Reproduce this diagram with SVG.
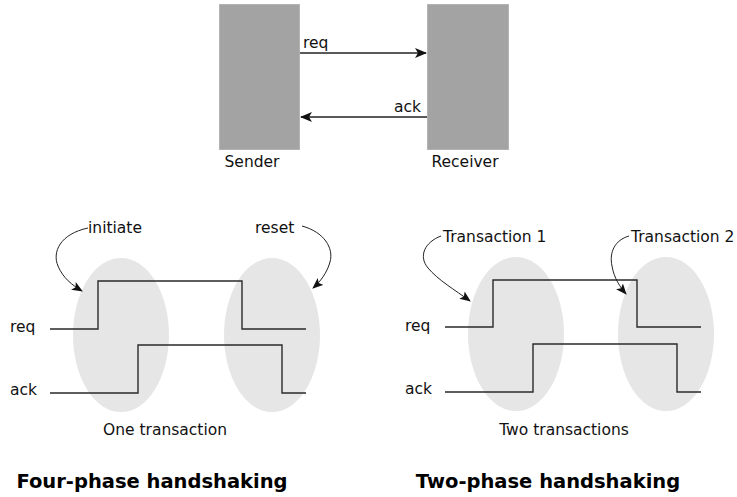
<svg xmlns="http://www.w3.org/2000/svg" width="737" height="497" viewBox="0 0 737 497">
  <style>
    .t { font-family: "DejaVu Sans", Verdana, sans-serif; font-size: 15.5px; fill: #111; }
    .b { font-family: "DejaVu Sans", Verdana, sans-serif; font-size: 19.5px; font-weight: bold; fill: #000; }
    .box { fill: #a3a3a3; stroke: #b4b4b4; stroke-width: 1; }
    .oval { fill: #e6e6e6; }
    .wave { fill: none; stroke: #2a2a2a; stroke-width: 1.4; }
    .wire { fill: none; stroke: #222; stroke-width: 1.3; }
    .curve { fill: none; stroke: #222; stroke-width: 1; }
  </style>
  <defs>
    <marker id="arrow" viewBox="0 0 12 10" refX="11" refY="5" markerWidth="12" markerHeight="10" markerUnits="userSpaceOnUse" orient="auto">
      <path d="M0,0 L12,5 L0,10 L3,5 Z" fill="#111"/>
    </marker>
    <marker id="arrowS" viewBox="0 0 11 9" refX="10" refY="4.5" markerWidth="11" markerHeight="9" markerUnits="userSpaceOnUse" orient="auto">
      <path d="M0,0 L11,4.5 L0,9 L2.5,4.5 Z" fill="#111"/>
    </marker>
  </defs>

  <!-- sender / receiver blocks -->
  <g id="sender">
    <rect class="box" x="219.5" y="4.5" width="80" height="145"/>
    <text class="t" x="252" y="167" text-anchor="middle">Sender</text>
  </g>
  <g id="receiver">
    <rect class="box" x="427.5" y="4.5" width="81" height="145"/>
    <text class="t" x="465" y="167" text-anchor="middle">Receiver</text>
  </g>

  <g id="connectors">
    <line class="wire" x1="300" y1="53" x2="426" y2="53" marker-end="url(#arrow)"/>
    <line class="wire" x1="427" y1="117" x2="301" y2="117" marker-end="url(#arrow)"/>
    <text class="t" x="303" y="48">req</text>
    <text class="t" x="421" y="112" text-anchor="end">ack</text>
  </g>

  <!-- four-phase handshaking -->
  <g id="four-phase">
    <ellipse class="oval" cx="121" cy="335" rx="48" ry="77"/>
    <ellipse class="oval" cx="272" cy="335" rx="48" ry="77"/>
    <polyline class="wave" points="50,329 98,329 98,281 242,281 242,329 306,329"/>
    <polyline class="wave" points="50,393 138,393 138,345 282,345 282,393 306,393"/>
    <text class="t" x="10" y="332">req</text>
    <text class="t" x="10" y="395">ack</text>
    <text class="t" x="88" y="233">initiate</text>
    <text class="t" x="255" y="233">reset</text>
    <path class="curve" d="M88,228 C60,234 52,252 58,266 C63,278 72,285 82,291" marker-end="url(#arrowS)"/>
    <path class="curve" d="M302,226 C324,232 334,248 330,262 C327,273 320,282 313,288" marker-end="url(#arrowS)"/>
    <text class="t" x="165" y="435" text-anchor="middle">One transaction</text>
    <text class="b" x="152" y="488" text-anchor="middle">Four-phase handshaking</text>
  </g>

  <!-- two-phase handshaking -->
  <g id="two-phase">
    <ellipse class="oval" cx="516" cy="334" rx="48" ry="77"/>
    <ellipse class="oval" cx="666" cy="334" rx="48" ry="77"/>
    <polyline class="wave" points="445,327 493,327 493,280 637,280 637,327 701,327"/>
    <polyline class="wave" points="445,392 533,392 533,344 677,344 677,392 701,392"/>
    <text class="t" x="405" y="331">req</text>
    <text class="t" x="405" y="394">ack</text>
    <text class="t" x="443" y="242">Transaction 1</text>
    <text class="t" x="631" y="242">Transaction 2</text>
    <path class="curve" d="M441,236 C425,242 418,256 428,268 C438,280 455,290 470,301" marker-end="url(#arrowS)"/>
    <path class="curve" d="M629,236 C615,240 609,252 612,266 C614,278 620,287 626,294" marker-end="url(#arrowS)"/>
    <text class="t" x="564" y="435" text-anchor="middle">Two transactions</text>
    <text class="b" x="548" y="488" text-anchor="middle">Two-phase handshaking</text>
  </g>
</svg>
